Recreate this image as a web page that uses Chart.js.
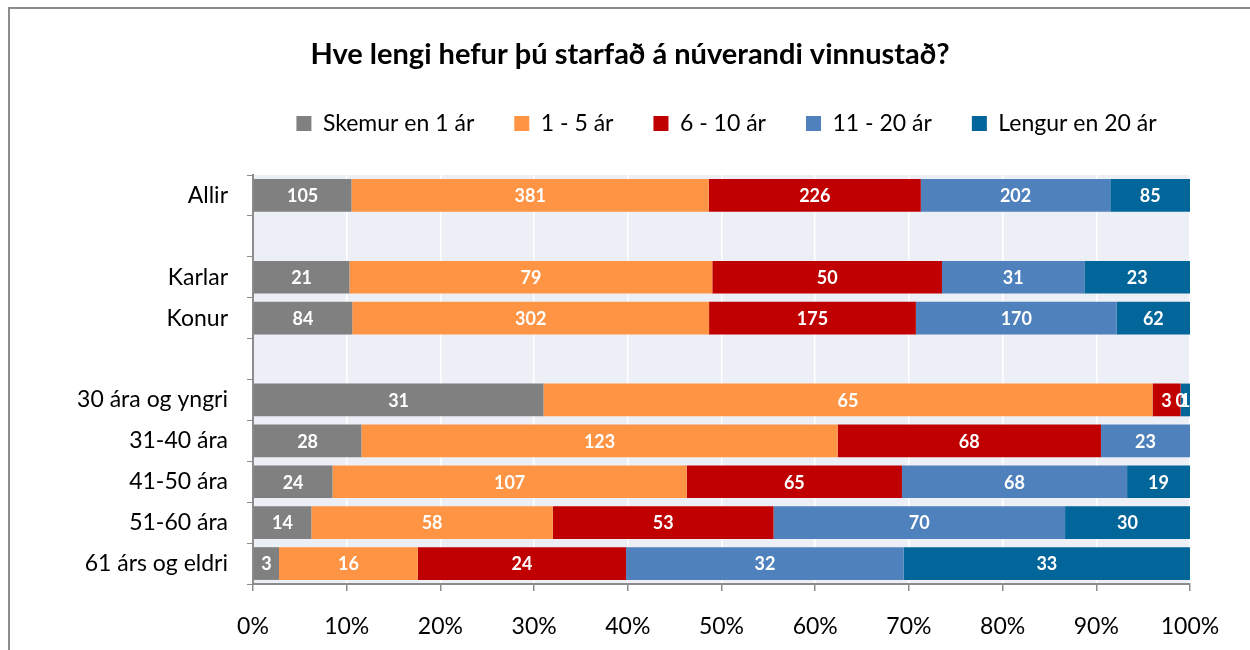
<!DOCTYPE html>
<html>
<head>
<meta charset="utf-8">
<script src="https://cdn.jsdelivr.net/npm/chart.js@4"></script>
<style>
  html, body { margin: 0; padding: 0; background: #ffffff; overflow: hidden; }
  #wrap { position: absolute; left: 8px; top: 7px; width: 1245px; height: 650px; border: 2px solid #8c8c8c; box-sizing: border-box; }
  #chart { position: absolute; left: 0; top: 0; }
</style>
</head>
<body>
<div id="wrap"></div>
<canvas id="chart" width="1250" height="650"></canvas>
<script>
// categories (blank rows are gaps in the original chart)
const categories = ['Allir', '', 'Karlar', 'Konur', '', '30 ára og yngri', '31-40 ára', '41-50 ára', '51-60 ára', '61 árs og eldri'];
const seriesNames = ['Skemur en 1 ár', '1 - 5 ár', '6 - 10 ár', '11 - 20 ár', 'Lengur en 20 ár'];
const seriesColors = ['#808080', '#FF9445', '#C00000', '#4F81BD', '#03669A'];

// counts per row, per series
const skemur = [105, null, 21, 84, null, 31, 28, 24, 14, 3];
const ar1to5 = [381, null, 79, 302, null, 65, 123, 107, 58, 16];
const ar6to10 = [226, null, 50, 175, null, 3, 68, 65, 53, 24];
const ar11to20 = [202, null, 31, 170, null, 0, 23, 68, 70, 32];
const lengur = [85, null, 23, 62, null, 1, null, 19, 30, 33];

const tickLabels = ['0%', '10%', '20%', '30%', '40%', '50%', '60%', '70%', '80%', '90%', '100%'];
const chartTitle = 'Hve lengi hefur þú starfað á núverandi vinnustað?';

const counts = [skemur, ar1to5, ar6to10, ar11to20, lengur];
const totals = categories.map((c, i) => counts.reduce((s, arr) => s + (arr[i] || 0), 0));

const datasets = counts.map((arr, k) => ({
    label: seriesNames[k],
    counts: arr,
    data: arr.map((v, i) => (v === null || totals[i] === 0) ? null : v / totals[i] * 100),
    backgroundColor: seriesColors[k],
    borderWidth: 0,
    barPercentage: 0.8,
    categoryPercentage: 1.0
}));

const FONT = "Lato, 'Open Sans', sans-serif";

// plot area background + title
const plotBg = {
    id: 'plotBg',
    afterInit(chart) {
        // leave a gap between legend and plot area
        const fit = chart.legend.fit;
        chart.legend.fit = function() {
            fit.call(this);
            this.height += 30;
        };
    },
    beforeDraw(chart) {
        const a = chart.chartArea;
        const ctx = chart.ctx;
        ctx.save();
        ctx.fillStyle = '#ECEFF5';
        ctx.fillRect(a.left, a.top, a.right - a.left, a.bottom - a.top);
        ctx.fillStyle = '#000000';
        ctx.font = "bold 29px " + FONT;
        ctx.textAlign = 'center';
        ctx.textBaseline = 'middle';
        ctx.fillText(chartTitle, 630, 55);
        ctx.restore();
    },
    afterLayout(chart) {
        // centre the legend over the plot area
        chart.legend.left = chart.chartArea.left - 20;
        chart.legend.right = chart.chartArea.right + 30;
    }
};

// value labels in the bars
const barLabels = {
    id: 'barLabels',
    afterDatasetsDraw(chart) {
        const ctx = chart.ctx;
        ctx.save();
        ctx.font = "bold 18px " + FONT;
        ctx.fillStyle = '#ffffff';
        ctx.textAlign = 'center';
        ctx.textBaseline = 'middle';
        chart.data.datasets.forEach((ds, k) => {
            const meta = chart.getDatasetMeta(k);
            meta.data.forEach((bar, i) => {
                const v = ds.counts[i];
                if (v === null || v === undefined) return;
                const x = (bar.x + bar.base) / 2;
                ctx.fillText(String(v), x, bar.y + 1);
            });
        });
        ctx.restore();
    }
};

new Chart(document.getElementById('chart'), {
    type: 'bar',
    data: { labels: categories, datasets: datasets },
    plugins: [plotBg, barLabels],
    options: {
        indexAxis: 'y',
        responsive: false,
        animation: false,
        layout: { padding: { left: 0, right: 60, top: 72, bottom: 0 } },
        plugins: {
            title: { display: false },
            legend: {
                position: 'top',
                labels: {
                    color: '#000000',
                    font: { family: FONT, size: 23 },
                    boxWidth: 15,
                    boxHeight: 15,
                    padding: 40
                }
            },
            tooltip: { enabled: false }
        },
        scales: {
            x: {
                stacked: true,
                min: 0,
                max: 100,
                afterFit(scale) { scale.height = 66; },
                border: { color: '#8c8c8c', width: 2 },
                grid: { color: '#ffffff', lineWidth: 1.5, tickColor: '#8c8c8c', tickLength: 7, drawTicks: true },
                ticks: {
                    stepSize: 10,
                    color: '#000000',
                    font: { family: FONT, size: 23 },
                    padding: 22,
                    maxRotation: 0,
                    callback: (v, i) => tickLabels[i]
                }
            },
            y: {
                stacked: true,
                afterFit(scale) { scale.width = 253; },
                border: { color: '#8c8c8c', width: 2 },
                grid: { display: true, drawOnChartArea: false, tickColor: '#8c8c8c', tickLength: 6, offset: true },
                ticks: {
                    color: '#000000',
                    font: { family: FONT, size: 23 },
                    padding: 19
                }
            }
        }
    }
});
</script>
</body>
</html>
